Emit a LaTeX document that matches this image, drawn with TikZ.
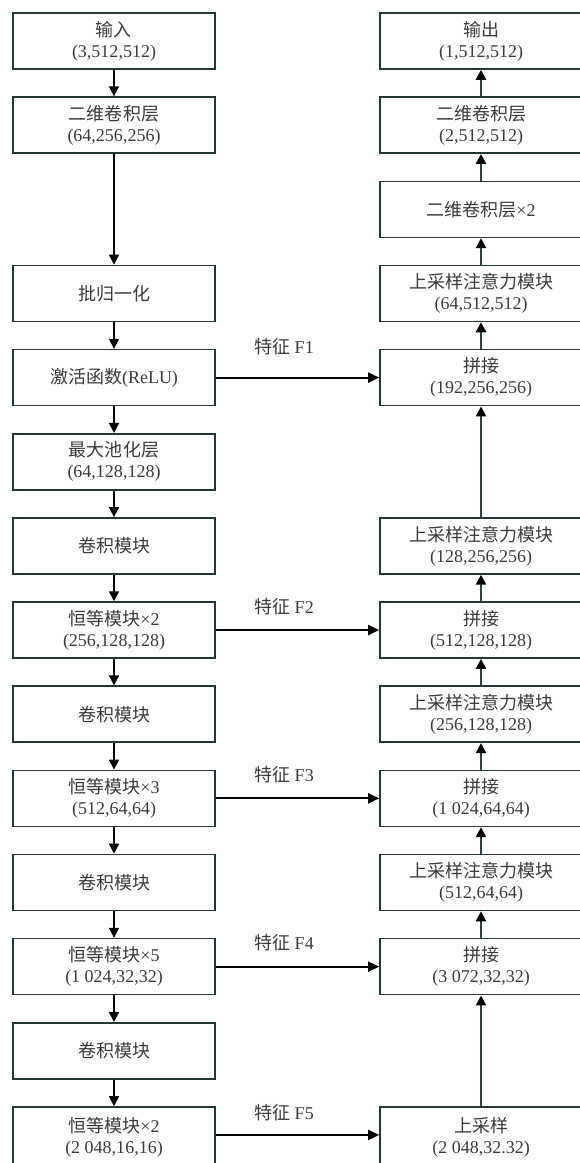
\documentclass[tikz,border=0pt]{standalone}
\usepackage{fontspec}
\setmainfont{Liberation Serif}
\newfontfamily\cjk{Noto Sans CJK SC}
\usetikzlibrary{arrows.meta}
\definecolor{boxline}{HTML}{263535}
\definecolor{txt}{HTML}{3A3A3A}
\definecolor{upline}{HTML}{2E4444}
\begin{document}
\begin{tikzpicture}[x=1bp,y=-1bp,
  blk/.style={draw=boxline, line width=1.6bp, minimum width=202bp, minimum height=56bp, inner sep=0pt, align=center, text=txt, font=\fontsize{18bp}{21bp}\selectfont},
  lastblk/.style={blk, minimum height=60bp},
  down/.style={draw=black, line width=1.6bp, -{Triangle[length=10bp,width=10bp]}},
  up/.style={draw=upline, line width=2.4bp, -{Triangle[length=10bp,width=10bp,color=black]}},
  feat/.style={draw=black, line width=1.8bp, -{Triangle[length=11bp,width=10bp]}},
  flab/.style={text=txt, inner sep=0pt, font=\fontsize{18bp}{21bp}\selectfont}
]
\useasboundingbox (0,0) rectangle (580,1163);
\clip (0,0) rectangle (580,1163);
% left column
\node[blk] (L0) at (114,41) {{\cjk 输入}\\(3,512,512)};
\node[blk] (L1) at (114,125.15) {{\cjk 二维卷积层}\\(64,256,256)};
\node[blk] (L3) at (114,293.45) {{\cjk 批归一化}};
\node[blk] (L4) at (114,377.6) {{\cjk 激活函数}(ReLU)};
\node[blk] (L5) at (114,461.75) {{\cjk 最大池化层}\\(64,128,128)};
\node[blk] (L6) at (114,545.9) {{\cjk 卷积模块}};
\node[blk] (L7) at (114,630.05) {{\cjk 恒等模块}×2\\(256,128,128)};
\node[blk] (L8) at (114,714.2) {{\cjk 卷积模块}};
\node[blk] (L9) at (114,798.35) {{\cjk 恒等模块}×3\\(512,64,64)};
\node[blk] (L10) at (114,882.5) {{\cjk 卷积模块}};
\node[blk] (L11) at (114,966.65) {{\cjk 恒等模块}×5\\(1 024,32,32)};
\node[blk] (L12) at (114,1050.8) {{\cjk 卷积模块}};
\node[lastblk] (L13) at (114,1137) {{\cjk 恒等模块}×2\\(2 048,16,16)};
% right column
\node[blk] (R0) at (481,41) {{\cjk 输出}\\(1,512,512)};
\node[blk] (R1) at (481,125.15) {{\cjk 二维卷积层}\\(2,512,512)};
\node[blk] (R2) at (481,209.3) {{\cjk 二维卷积层}×2};
\node[blk] (R3) at (481,293.45) {{\cjk 上采样注意力模块}\\(64,512,512)};
\node[blk] (R4) at (481,377.6) {{\cjk 拼接}\\(192,256,256)};
\node[blk] (R6) at (481,545.9) {{\cjk 上采样注意力模块}\\(128,256,256)};
\node[blk] (R7) at (481,630.05) {{\cjk 拼接}\\(512,128,128)};
\node[blk] (R8) at (481,714.2) {{\cjk 上采样注意力模块}\\(256,128,128)};
\node[blk] (R9) at (481,798.35) {{\cjk 拼接}\\(1 024,64,64)};
\node[blk] (R10) at (481,882.5) {{\cjk 上采样注意力模块}\\(512,64,64)};
\node[blk] (R11) at (481,966.65) {{\cjk 拼接}\\(3 072,32,32)};
\node[lastblk] (R13) at (481,1137) {{\cjk 上采样}\\(2 048,32.32)};
% down arrows
\draw[down] (L0) -- (L1);
\draw[down] (L1) -- (L3);
\draw[down] (L3) -- (L4);
\draw[down] (L4) -- (L5);
\draw[down] (L5) -- (L6);
\draw[down] (L6) -- (L7);
\draw[down] (L7) -- (L8);
\draw[down] (L8) -- (L9);
\draw[down] (L9) -- (L10);
\draw[down] (L10) -- (L11);
\draw[down] (L11) -- (L12);
\draw[down] (L12) -- (L13);
% up arrows
\draw[up] (R13) -- (R11);
\draw[up] (R11) -- (R10);
\draw[up] (R10) -- (R9);
\draw[up] (R9) -- (R8);
\draw[up] (R8) -- (R7);
\draw[up] (R7) -- (R6);
\draw[up] (R6) -- (R4);
\draw[up] (R4) -- (R3);
\draw[up] (R3) -- (R2);
\draw[up] (R2) -- (R1);
\draw[up] (R1) -- (R0);
% feature arrows
\draw[feat] (L4) -- (R4);
\draw[feat] (L7) -- (R7);
\draw[feat] (L9) -- (R9);
\draw[feat] (L11) -- (R11);
\draw[feat] (L13.east |- 0,1134.95) -- (R13.west |- 0,1134.95);
\node[flab] (f1) at (284,347) {{\cjk 特征} F1};
\node[flab] (f2) at (284,607) {{\cjk 特征} F2};
\node[flab] (f3) at (284,775) {{\cjk 特征} F3};
\node[flab] (f4) at (284,943) {{\cjk 特征} F4};
\node[flab] (f5) at (284,1113) {{\cjk 特征} F5};
\end{tikzpicture}
\end{document}
